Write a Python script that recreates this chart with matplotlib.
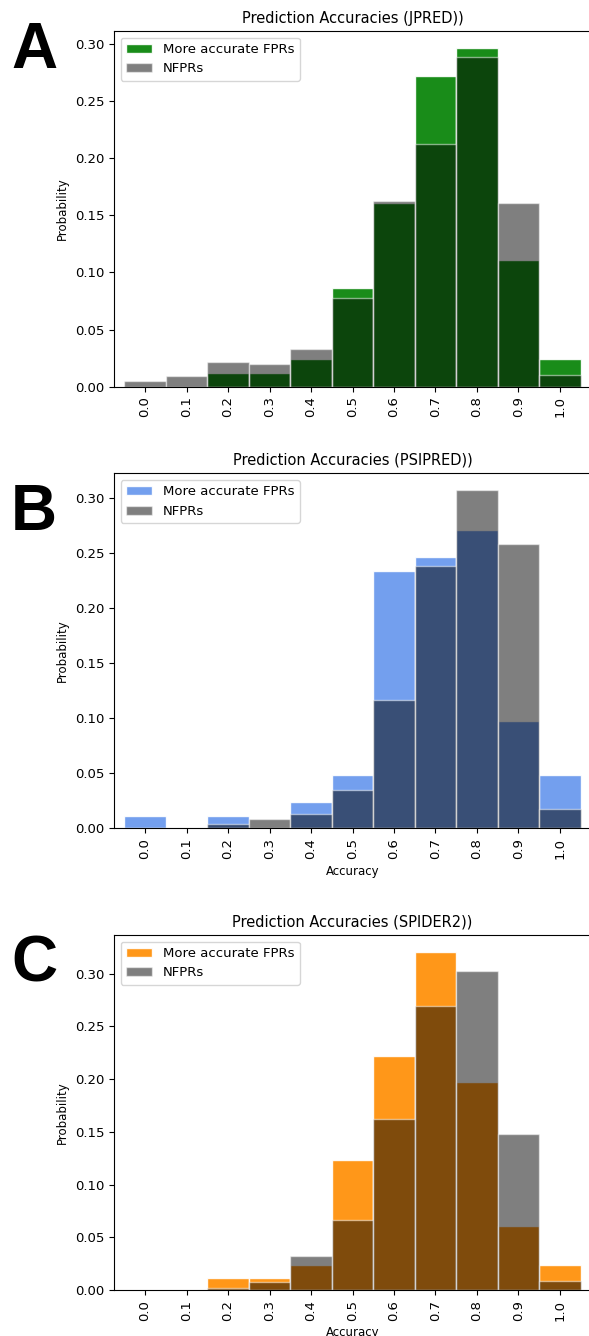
import numpy as np
import matplotlib
matplotlib.use("Agg")
from matplotlib import pyplot as plt

# bin centres (accuracy) and tick labels
bins = [0.0, 0.1, 0.2, 0.3, 0.4, 0.5, 0.6, 0.7, 0.8, 0.9, 1.0]
tick_labels = ["0.0", "0.1", "0.2", "0.3", "0.4", "0.5", "0.6", "0.7", "0.8", "0.9", "1.0"]

# JPRED
jpred_fpr = [0.0, 0.0, 0.012, 0.012, 0.0243, 0.0863, 0.1605, 0.2717, 0.2965, 0.1109, 0.0243]
jpred_nfpr = [0.005, 0.009, 0.0217, 0.0196, 0.0328, 0.0778, 0.1623, 0.2123, 0.2886, 0.1605, 0.0105]

# PSIPRED
psipred_fpr = [0.0115, 0.0, 0.0115, 0.0, 0.0236, 0.0485, 0.2339, 0.246, 0.2709, 0.0978, 0.0485]
psipred_nfpr = [0.0, 0.0, 0.0036, 0.0082, 0.0127, 0.0348, 0.1167, 0.2382, 0.3069, 0.2578, 0.0179]

# SPIDER2
spider_fpr = [0.0, 0.0, 0.0117, 0.0117, 0.024, 0.1228, 0.2218, 0.3206, 0.1968, 0.0611, 0.0237]
spider_nfpr = [0.0, 0.0, 0.0022, 0.0073, 0.0326, 0.0661, 0.1623, 0.269, 0.3026, 0.1481, 0.0085]

panels = [
    ("A", "JPRED", jpred_fpr, jpred_nfpr, "green", False),
    ("B", "PSIPRED", psipred_fpr, psipred_nfpr, "cornflowerblue", True),
    ("C", "SPIDER2", spider_fpr, spider_nfpr, "darkorange", True),
]

fig = plt.figure(figsize=(5.89, 13.36), dpi=100)

H = 1336.0
W = 589.0
tops = [31, 473.3, 935]
bottoms = [386.7, 828.3, 1290]
letter_base = [68, 530, 981]

for i, (letter, name, fpr, nfpr, col, xlab) in enumerate(panels):
    ax = fig.add_axes([114 / W, 1 - bottoms[i] / H, (591 - 114) / W, (bottoms[i] - tops[i]) / H])
    ax.bar(bins, fpr, width=0.1, color=col, alpha=0.9, edgecolor="white",
           linewidth=1, label="More accurate FPRs")
    ax.bar(bins, nfpr, width=0.1, color="black", alpha=0.5, edgecolor="white",
           linewidth=1, label="NFPRs")
    ax.set_xlim(-0.075, 1.075)
    ax.set_xticks(bins)
    ax.set_xticklabels(tick_labels, rotation=90)
    ax.tick_params(labelsize=9.5)
    ax.set_title("Prediction Accuracies (%s))" % name, fontsize=10.5)
    ax.set_ylabel("Probability", fontsize=8.5)
    if xlab:
        ax.set_xlabel("Accuracy", fontsize=8.5)
    ax.legend(loc="upper left", fontsize=9.5)
    fig.text(11 / W, 1 - letter_base[i] / H, letter, fontsize=46, fontweight="bold",
             family=["Liberation Sans", "DejaVu Sans"], va="baseline", ha="left")

fig.savefig("out.png", dpi=100)
